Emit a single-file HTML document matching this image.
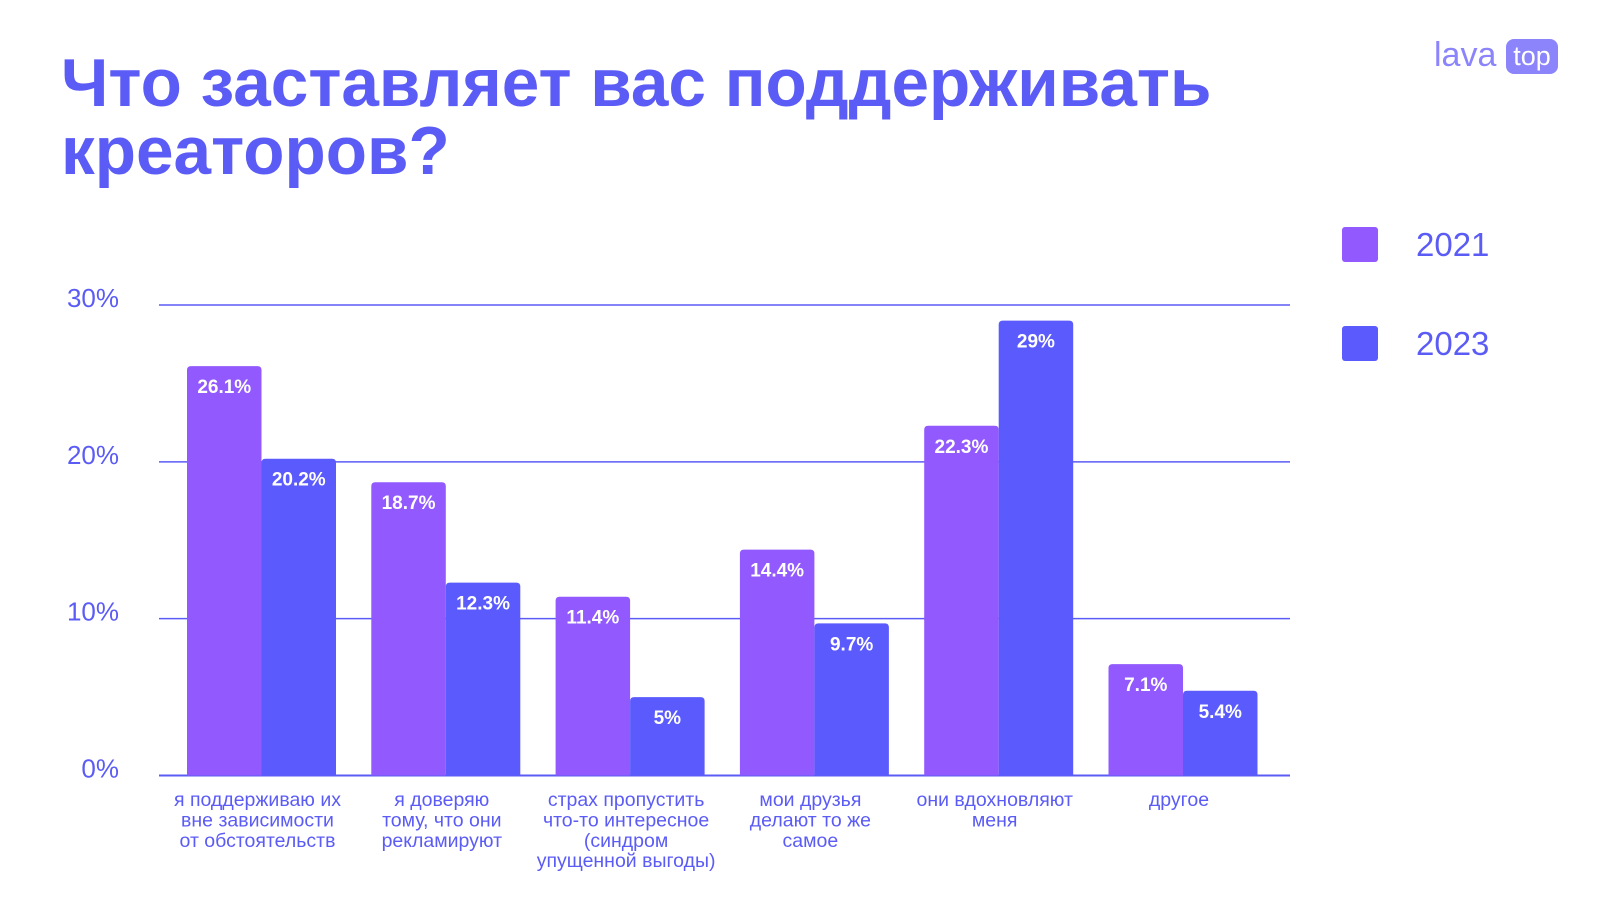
<!DOCTYPE html>
<html><head><meta charset="utf-8"><style>
body{margin:0;width:1600px;height:900px;background:#fff;overflow:hidden;font-family:"Liberation Sans","DejaVu Sans",sans-serif}
svg{display:block}
</style></head><body>
<svg width="1600" height="900">
<text x="61" y="106" font-size="67.5" font-weight="bold" fill="#5b5bf6">Что заставляет вас поддерживать</text>
<text x="61" y="174" font-size="67.5" font-weight="bold" fill="#5b5bf6">креаторов?</text>
<g>
<text x="1434" y="66" font-size="34" fill="#8b84fb">lava</text>
<rect x="1506" y="39" width="52" height="35" rx="8" fill="#8b84fb"/>
<text x="1532" y="65" font-size="27" fill="#fff" text-anchor="middle">top</text>
</g>
<g>
<rect x="1342" y="227" width="36" height="35" rx="3" fill="#9159fe"/>
<text x="1416" y="256" font-size="33" fill="#5b5bf6">2021</text>
<rect x="1342" y="326" width="36" height="35" rx="3" fill="#5b5bfd"/>
<text x="1416" y="355" font-size="33" fill="#5b5bf6">2023</text>
</g>
<g id="grid"></g><g id="bars"></g><g id="cats"></g>
</svg>
<script>
const categories=[["я поддерживаю их","вне зависимости","от обстоятельств"],["я доверяю","тому, что они","рекламируют"],["страх пропустить","что-то интересное","(синдром","упущенной выгоды)"],["мои друзья","делают то же","самое"],["они вдохновляют","меня"],["другое"]];
const values2021=[26.1,18.7,11.4,14.4,22.3,7.1];
const values2023=[20.2,12.3,5,9.7,29,5.4];
const labels2021=["26.1%","18.7%","11.4%","14.4%","22.3%","7.1%"];
const labels2023=["20.2%","12.3%","5%","9.7%","29%","5.4%"];
const ticks=[0,10,20,30];
const NS="http://www.w3.org/2000/svg";
const y0=775.5,y30=305;
function y(v){return y0-(y0-y30)*v/30;}
function gx(i){return 187+i*184.3;}
const bw=74.5;
function mk(t,a,p){const e=document.createElementNS(NS,t);for(const k in a)e.setAttribute(k,a[k]);p.appendChild(e);return e;}
const grid=document.getElementById('grid'),bars=document.getElementById('bars'),cats=document.getElementById('cats');
ticks.forEach(t=>{
 const l=mk('line',{x1:159,x2:1290,y1:y(t),y2:y(t),stroke:'#5b5bf6','stroke-width':t===0?2:1.5},grid);
 
 
 const tx=mk('text',{x:119,y:y(t)+2,'font-size':26,fill:'#5b5bf6','text-anchor':'end'},grid);
 tx.textContent=t+'%';
 
 
});
function bar(x,v,col,lab,name){
 const r=mk('path',{d:`M${x},${y0}V${y(v)+4}q0,-4 4,-4h${bw-8}q4,0 4,4V${y0}Z`,fill:col},bars);
 
 
 const t=mk('text',{x:x+bw/2,y:y(v)+27,'font-size':19,'font-weight':'bold',fill:'#fff','text-anchor':'middle'},bars);
 t.textContent=lab;
 
 
}
categories.forEach((c,i)=>{
 bar(gx(i),values2021[i],'#9159fe',labels2021[i],'bar-2021-'+i);
 bar(gx(i)+bw,values2023[i],'#5b5bfd',labels2023[i],'bar-2023-'+i);
 const t=mk('text',{x:gx(i)+bw-4,y:806,'font-size':19.5,fill:'#5b5bf6','text-anchor':'middle'},cats);
 
 
 c.forEach((ln,j)=>{const s=mk('tspan',{x:gx(i)+bw-4,dy:j?20.4:0},t);s.textContent=ln;});
});
</script>
</body></html>
